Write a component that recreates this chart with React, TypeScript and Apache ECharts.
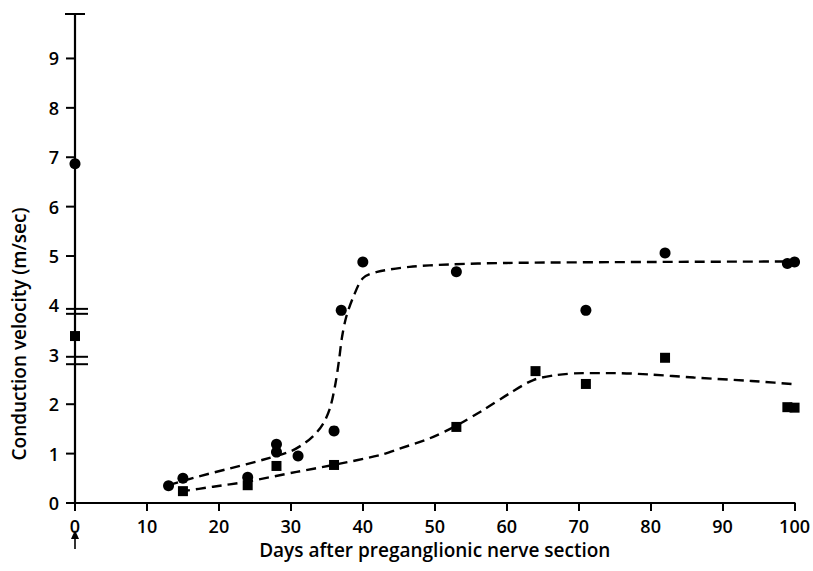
import React, { useEffect, useRef } from "react";
import * as echarts from "echarts";

// Circles (upper series)
const circleDays = [0, 13, 15, 24, 28, 28, 31, 36, 37, 40, 53, 71, 82, 99, 100];
const circleVel = [6.87, 0.35, 0.5, 0.52, 1.19, 1.03, 0.95, 1.46, 3.9, 4.88, 4.68, 3.9, 5.06, 4.85, 4.88];

// Squares (lower series)
const squareDays = [0, 15, 24, 28, 36, 53, 64, 71, 82, 99, 100];
const squareVel = [3.38, 0.24, 0.36, 0.75, 0.77, 1.54, 2.67, 2.41, 2.94, 1.94, 1.93];

// Fitted dashed curves
const upperCurveDays = [13, 17, 21.5, 26, 30, 32, 33.6, 34.7, 35.5, 36.2, 36.7, 37.1, 37.7, 38.7, 40, 42, 46.5, 52, 60, 80, 100.7];
const upperCurveVel = [0.36, 0.53, 0.7, 0.87, 1.05, 1.22, 1.43, 1.66, 1.95, 2.42, 2.9, 3.35, 3.77, 4.18, 4.55, 4.68, 4.78, 4.83, 4.86, 4.88, 4.89];

const lowerCurveDays = [14.6, 19.2, 23.8, 30.8, 35.9, 42.4, 45.1, 49.3, 52.8, 56.7, 60.4, 63.7, 66.9, 70.6, 75, 80, 86, 94, 101.4];
const lowerCurveVel = [0.23, 0.33, 0.43, 0.63, 0.77, 0.97, 1.1, 1.31, 1.55, 1.88, 2.22, 2.49, 2.59, 2.63, 2.63, 2.6, 2.54, 2.47, 2.39];

// Axis decorations
const xTickLabels = [0, 10, 20, 30, 40, 50, 60, 70, 80, 90, 100];
const yTickValues = [0, 1, 2, 5, 6, 7, 8, 9];
const yBreakValues = [3.93, 3.83, 2.96, 2.81];
const yAxisTop = 9.9;

const FONT = "'Open Sans', 'DejaVu Sans', sans-serif";
const INK = "#000";

export default function App() {
  const ref = useRef<HTMLDivElement>(null);
  useEffect(() => {
    if (!ref.current) return;
    const chart = echarts.init(ref.current, undefined, { renderer: "svg" });
    const zip = (a: number[], b: number[]) => a.map((v, i) => [v, b[i]]);
    const option: any = {
      animation: false,
      backgroundColor: "#fff",
      grid: { left: 75, right: 18, top: 14, bottom: 68 },
      xAxis: {
        type: "value",
        min: 0,
        max: 100,
        interval: 10,
        axisLine: { show: true, onZero: false, lineStyle: { color: INK, width: 2.2 } },
        axisTick: { show: true, length: 8, lineStyle: { color: INK, width: 2 } },
        axisLabel: {
          color: INK,
          fontSize: 18,
          fontWeight: 600,
          fontFamily: FONT,
          margin: 14,
          formatter: (v: number) => (xTickLabels.indexOf(v) >= 0 ? String(v) : ""),
        },
        splitLine: { show: false },
        name: "Days after preganglionic nerve section",
        nameLocation: "middle",
        nameGap: 37,
        nameTextStyle: { color: INK, fontSize: 19, fontWeight: 600, fontFamily: FONT },
      },
      yAxis: {
        type: "value",
        min: 0,
        max: yAxisTop,
        interval: 1,
        axisLine: { show: true, lineStyle: { color: INK, width: 2.2 } },
        axisTick: { show: false },
        axisLabel: {
          color: INK,
          fontSize: 18,
          fontWeight: 600,
          fontFamily: FONT,
          margin: 16,
          showMaxLabel: false,
        },
        splitLine: { show: false },
      },
      graphic: [
        {
          type: "text",
          x: 19,
          y: 334,
          rotation: Math.PI / 2,
          style: {
            text: "Conduction velocity (m/sec)",
            fill: INK,
            fontSize: 19,
            fontWeight: 600,
            fontFamily: FONT,
            align: "center",
            verticalAlign: "middle",
          },
        },
      ],
      series: [
        {
          type: "line",
          data: zip(upperCurveDays, upperCurveVel),
          showSymbol: false,
          smooth: 0.3,
          clip: false,
          lineStyle: { color: INK, width: 2.4, type: [10, 6] },
          z: 2,
        },
        {
          type: "line",
          data: zip(lowerCurveDays, lowerCurveVel),
          showSymbol: false,
          smooth: 0.3,
          clip: false,
          lineStyle: { color: INK, width: 2.4, type: [10, 6] },
          z: 2,
        },
        {
          type: "scatter",
          data: zip(circleDays, circleVel),
          symbol: "circle",
          symbolSize: 11,
          itemStyle: { color: INK, opacity: 1 },
          clip: false,
          z: 3,
        },
        {
          type: "scatter",
          data: zip(squareDays, squareVel),
          symbol: "rect",
          symbolSize: 10,
          itemStyle: { color: INK, opacity: 1 },
          clip: false,
          z: 3,
        },
        {
          // y ticks (outward)
          type: "custom",
          clip: false,
          data: yTickValues.map((v) => [0, v]),
          renderItem: (params: any, api: any) => {
            const p = api.coord([api.value(0), api.value(1)]);
            return {
              type: "line",
              shape: { x1: p[0] - 9, y1: p[1], x2: p[0], y2: p[1] },
              style: { stroke: INK, lineWidth: 2 },
            };
          },
          z: 4,
        },
        {
          // axis break marks
          type: "custom",
          clip: false,
          data: yBreakValues.map((v) => [0, v]),
          renderItem: (params: any, api: any) => {
            const p = api.coord([api.value(0), api.value(1)]);
            return {
              type: "line",
              shape: { x1: p[0] - 9, y1: p[1], x2: p[0] + 13, y2: p[1] },
              style: { stroke: INK, lineWidth: 2 },
            };
          },
          z: 4,
        },
        {
          // top cap of the y axis
          type: "custom",
          clip: false,
          data: [[0, yAxisTop]],
          renderItem: (params: any, api: any) => {
            const p = api.coord([api.value(0), api.value(1)]);
            return {
              type: "line",
              shape: { x1: p[0] - 10, y1: p[1], x2: p[0] + 10, y2: p[1] },
              style: { stroke: INK, lineWidth: 2 },
            };
          },
          z: 4,
        },
        {
          // arrow under day 0
          type: "custom",
          clip: false,
          data: [[0, 0]],
          renderItem: (params: any, api: any) => {
            const p = api.coord([api.value(0), api.value(1)]);
            return {
              type: "group",
              children: [
                {
                  type: "line",
                  shape: { x1: p[0], y1: p[1] + 33, x2: p[0], y2: p[1] + 46 },
                  style: { stroke: INK, lineWidth: 1.6 },
                },
                {
                  type: "polygon",
                  shape: {
                    points: [
                      [p[0], p[1] + 27],
                      [p[0] - 4, p[1] + 36],
                      [p[0] + 4, p[1] + 36],
                    ],
                  },
                  style: { fill: INK },
                },
              ],
            };
          },
          z: 4,
        },
      ],
    };
    chart.setOption(option);
    return () => chart.dispose();
  }, []);
  return <div ref={ref} style={{ width: 813, height: 571, position: "absolute", left: 0, top: 0 }} />;
}
